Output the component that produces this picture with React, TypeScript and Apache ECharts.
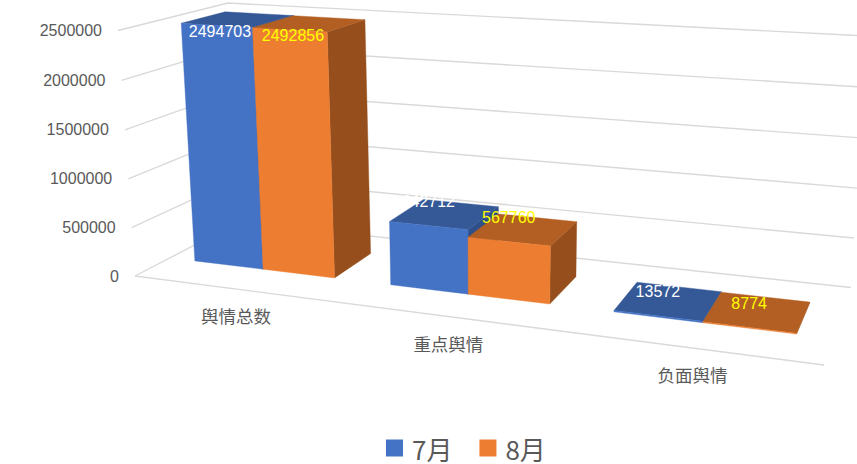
import React, { useEffect, useRef } from "react";
import * as echarts from "echarts";

const categories = ["舆情总数", "重点舆情", "负面舆情"];
const july = [2494703, 642712, 13572];
const august = [2492856, 567760, 8774];
const valueTicks = [0, 500000, 1000000, 1500000, 2000000, 2500000];

type P = [number, number];
const quad = (p0: P, p1: P, p2: P, p3: P) => {
  const dx1 = p1[0] - p2[0], dy1 = p1[1] - p2[1];
  const dx2 = p3[0] - p2[0], dy2 = p3[1] - p2[1];
  const sx = p0[0] - p1[0] + p2[0] - p3[0], sy = p0[1] - p1[1] + p2[1] - p3[1];
  const det = dx1 * dy2 - dx2 * dy1;
  const g = (sx * dy2 - dx2 * sy) / det;
  const h = (dx1 * sy - sx * dy1) / det;
  const a = p1[0] - p0[0] + g * p1[0], b = p3[0] - p0[0] + h * p3[0];
  const d = p1[1] - p0[1] + g * p1[1], e = p3[1] - p0[1] + h * p3[1];
  return (u: number, t: number): P => {
    const w = g * u + h * t + 1;
    return [(a * u + b * t + p0[0]) / w, (d * u + e * t + p0[1]) / w];
  };
};
const floorPlane = quad([135, 276], [824, 365], [851, 287.5], [239, 222]);
const topPlane = quad([118, 30.5], [843, 76], [866, 36], [228, 3]);
const project = (u: number, t: number, v: number): P => {
  const f = floorPlane(u, t), c = topPlane(u, t);
  const s = v / (v + (1 - v) * 1.02);
  return [f[0] + (c[0] - f[0]) * s, f[1] + (c[1] - f[1]) * s];
};

const NUM_FONT = "'Liberation Sans', 'Noto Sans CJK SC', sans-serif";
const CJK_FONT = "'Noto Sans CJK SC', sans-serif";
const TEXT = "#595959";
const GRID = "#D9D9D9";
const D0 = 0.308, D1 = 0.72, BAR_SHARE = 0.363;

const unit = (params: any, api: any, i: number, value: number) => {
  const cs = params.coordSys;
  const pt = api.coord([i, value]);
  return { u: (pt[0] - cs.x) / cs.width, v: 1 - (pt[1] - cs.y) / cs.height };
};

const barRenderer = (side: -1 | 1, colors: { front: string; top: string; side: string }, labelColor: string) =>
  (params: any, api: any) => {
    const i = api.value(0), value = api.value(1);
    const cs = params.coordSys;
    const { u: uc, v } = unit(params, api, i, value);
    const half = (api.size([1, 0])[0] * BAR_SHARE) / cs.width;
    const a = side < 0 ? uc - half : uc;
    const b = side < 0 ? uc : uc + half;
    const poly = (pts: P[], fill: string) => ({
      type: "polygon", silent: true, shape: { points: pts }, style: { fill, stroke: fill, lineWidth: 0.4 },
    });
    const anchor = project((a + b) / 2, D0, v);
    const dx = i === 0 ? 3.5 : 0, dy = i === 0 ? 6 : -24;
    return {
      type: "group",
      children: [
        poly([project(b, D0, 0), project(b, D1, 0), project(b, D1, v), project(b, D0, v)], colors.side),
        poly([project(a, D0, v), project(b, D0, v), project(b, D1, v), project(a, D1, v)], colors.top),
        poly([project(a, D0, 0), project(b, D0, 0), project(b, D0, v), project(a, D0, v)], colors.front),
        {
          type: "text", silent: true,
          style: {
            text: String(value), x: anchor[0] + dx, y: anchor[1] + dy, align: "center", verticalAlign: "middle",
            fill: labelColor, font: `16px ${NUM_FONT}`,
          },
        },
      ],
    };
  };

const wallRenderer = (params: any, api: any) => {
  const value = api.value(1);
  const { v } = unit(params, api, 0, value);
  const line = (pts: P[]) => ({
    type: "polyline", silent: true, shape: { points: pts }, style: { fill: "none", stroke: GRID, lineWidth: 1.4 },
  });
  const start = project(0, 0, v);
  const children: any[] = [
    line([start, project(0, 1, v), project(1, 1, v)]),
    {
      type: "text", silent: true,
      style: {
        text: String(value), x: start[0] - 16, y: start[1], align: "right", verticalAlign: "middle",
        fill: TEXT, font: `16px ${NUM_FONT}`,
      },
    },
  ];
  if (value === 0) children.push(line([start, project(1, 0, 0)]));
  return { type: "group", children };
};

const categoryRenderer = (params: any, api: any) => {
  const i = api.value(0);
  const { u } = unit(params, api, i, 0);
  const p = project(u, 0, 0);
  return {
    type: "text", silent: true,
    style: {
      text: categories[i], x: p[0] + 5, y: p[1] + 27.5, align: "center", verticalAlign: "middle",
      fill: TEXT, font: `17.5px ${CJK_FONT}`,
    },
  };
};

export default function App() {
  const ref = useRef<HTMLDivElement>(null);
  useEffect(() => {
    const chart = echarts.init(ref.current!, undefined, { renderer: "svg" });
    chart.setOption({
      animation: false,
      backgroundColor: "#FFFFFF",
      grid: { left: 0, right: 0, top: 0, bottom: 0 },
      xAxis: { type: "category", data: categories, show: false },
      yAxis: { type: "value", min: 0, max: 2500000, interval: 500000, show: false },
      legend: {
        data: ["7月", "8月"], left: 381, top: 430, icon: "rect", itemWidth: 17, itemHeight: 17, itemGap: 27,
        selectedMode: false,
        textStyle: { color: TEXT, fontSize: 26, fontFamily: CJK_FONT, padding: [0, 0, 0, 4] },
      },
      series: [
        { type: "custom", name: "walls", clip: false, silent: true, renderItem: wallRenderer,
          data: valueTicks.map((t) => [0, t]) },
        { type: "custom", name: "categories", clip: false, silent: true, renderItem: categoryRenderer,
          data: categories.map((_, i) => [i, 0]) },
        { type: "custom", name: "7月", clip: false, silent: true, itemStyle: { color: "#4472C4" },
          renderItem: barRenderer(-1, { front: "#4472C4", top: "#355997", side: "#2E4F88" }, "#FFFFFF"),
          data: july.map((v, i) => [i, v]) },
        { type: "custom", name: "8月", clip: false, silent: true, itemStyle: { color: "#ED7D31" },
          renderItem: barRenderer(1, { front: "#ED7D31", top: "#B35E22", side: "#964F1C" }, "#FFFF00"),
          data: august.map((v, i) => [i, v]) },
      ],
    });
    return () => chart.dispose();
  }, []);
  return <div ref={ref} style={{ position: "absolute", left: 0, top: 0, width: 857, height: 464, overflow: "hidden" }} />;
}
